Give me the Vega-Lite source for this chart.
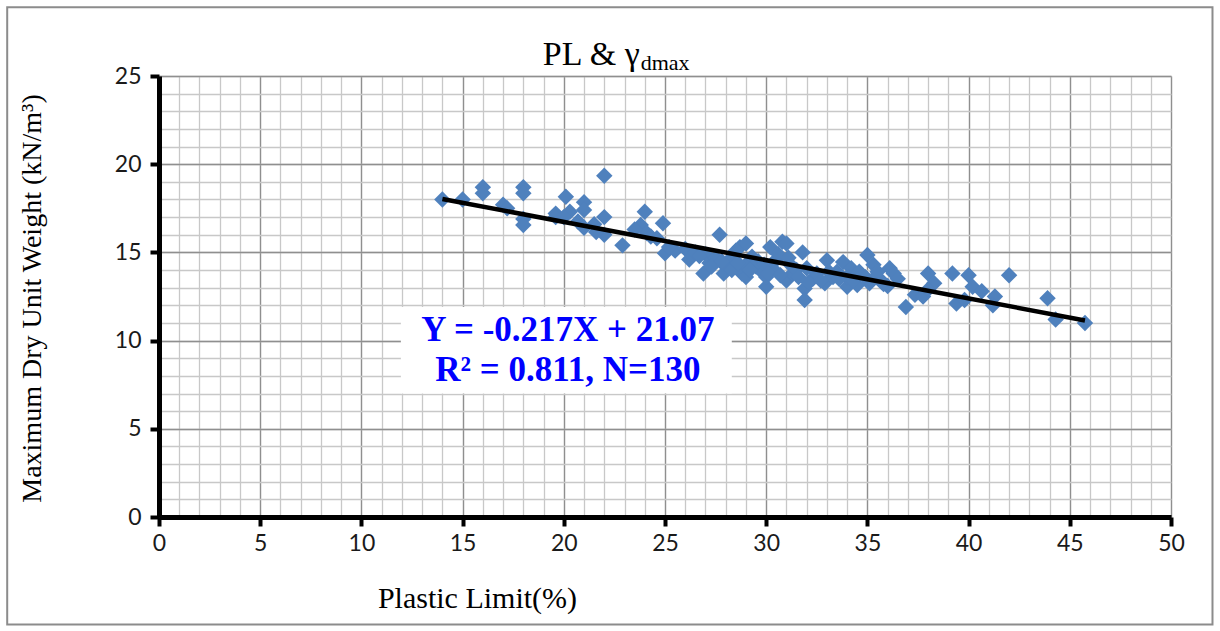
{
  "$schema": "https://vega.github.io/schema/vega-lite/v6.json",
  "width": 1012,
  "height": 441,
  "autosize": {"type": "none"},
  "padding": {"left": 159, "top": 76, "right": 49, "bottom": 114},
  "background": "white",
  "config": {"view": {"stroke": null}},
  "resolve": {"axis": {"x": "independent", "y": "independent"}},
  "datasets": {
    "points": [
      {"pl": 14.0, "gd": 18.0}, {"pl": 15.0, "gd": 18.0}, {"pl": 16.0, "gd": 18.7}, {"pl": 16.0, "gd": 18.35},
      {"pl": 17.0, "gd": 17.7}, {"pl": 17.2, "gd": 17.5}, {"pl": 18.0, "gd": 18.7}, {"pl": 18.0, "gd": 18.35},
      {"pl": 18.0, "gd": 16.9}, {"pl": 18.0, "gd": 16.55}, {"pl": 19.6, "gd": 17.2}, {"pl": 19.6, "gd": 17.0},
      {"pl": 20.1, "gd": 18.15}, {"pl": 20.3, "gd": 17.3}, {"pl": 20.0, "gd": 17.0}, {"pl": 21.0, "gd": 17.85},
      {"pl": 21.0, "gd": 17.4}, {"pl": 20.7, "gd": 16.75}, {"pl": 21.0, "gd": 16.4}, {"pl": 21.5, "gd": 16.6},
      {"pl": 22.0, "gd": 19.35}, {"pl": 22.0, "gd": 17.0}, {"pl": 22.0, "gd": 16.0}, {"pl": 21.6, "gd": 16.15},
      {"pl": 22.9, "gd": 15.4}, {"pl": 24.0, "gd": 17.3}, {"pl": 23.8, "gd": 16.55}, {"pl": 24.1, "gd": 16.1},
      {"pl": 24.3, "gd": 15.9}, {"pl": 24.9, "gd": 16.65}, {"pl": 25.0, "gd": 14.95}, {"pl": 25.5, "gd": 15.1},
      {"pl": 25.2, "gd": 15.3}, {"pl": 26.0, "gd": 15.2}, {"pl": 26.2, "gd": 14.6}, {"pl": 26.5, "gd": 15.0},
      {"pl": 26.9, "gd": 13.8}, {"pl": 27.2, "gd": 14.4}, {"pl": 27.0, "gd": 14.9}, {"pl": 27.7, "gd": 16.0},
      {"pl": 27.5, "gd": 14.7}, {"pl": 27.9, "gd": 13.8}, {"pl": 28.2, "gd": 14.6}, {"pl": 28.0, "gd": 14.2},
      {"pl": 28.5, "gd": 15.1}, {"pl": 28.7, "gd": 15.3}, {"pl": 28.8, "gd": 13.8}, {"pl": 29.0, "gd": 15.5},
      {"pl": 29.0, "gd": 14.3}, {"pl": 29.3, "gd": 14.75}, {"pl": 29.5, "gd": 14.2}, {"pl": 29.7, "gd": 14.0},
      {"pl": 29.0, "gd": 13.6}, {"pl": 30.0, "gd": 13.05}, {"pl": 30.0, "gd": 13.6}, {"pl": 30.2, "gd": 15.3},
      {"pl": 30.5, "gd": 14.6}, {"pl": 30.3, "gd": 14.1}, {"pl": 30.8, "gd": 15.6}, {"pl": 31.0, "gd": 15.5},
      {"pl": 31.0, "gd": 13.4}, {"pl": 31.3, "gd": 13.8}, {"pl": 31.2, "gd": 14.3}, {"pl": 31.5, "gd": 14.0},
      {"pl": 31.8, "gd": 15.0}, {"pl": 31.9, "gd": 12.95}, {"pl": 31.9, "gd": 12.3}, {"pl": 32.3, "gd": 13.5},
      {"pl": 32.0, "gd": 14.1}, {"pl": 32.5, "gd": 13.8}, {"pl": 33.0, "gd": 14.55}, {"pl": 32.9, "gd": 13.25},
      {"pl": 33.3, "gd": 13.6}, {"pl": 33.5, "gd": 13.9}, {"pl": 33.8, "gd": 14.45}, {"pl": 34.0, "gd": 13.05},
      {"pl": 34.2, "gd": 14.1}, {"pl": 34.5, "gd": 13.15}, {"pl": 34.0, "gd": 13.6}, {"pl": 35.0, "gd": 14.85},
      {"pl": 35.1, "gd": 13.25}, {"pl": 35.3, "gd": 14.3}, {"pl": 35.6, "gd": 13.5}, {"pl": 35.5, "gd": 13.9},
      {"pl": 36.1, "gd": 14.1}, {"pl": 36.3, "gd": 13.8}, {"pl": 36.0, "gd": 13.1}, {"pl": 36.9, "gd": 11.9},
      {"pl": 37.35, "gd": 12.6}, {"pl": 37.75, "gd": 12.5}, {"pl": 38.0, "gd": 13.8}, {"pl": 38.3, "gd": 13.25},
      {"pl": 38.0, "gd": 12.9}, {"pl": 39.2, "gd": 13.8}, {"pl": 39.4, "gd": 12.1}, {"pl": 39.8, "gd": 12.3},
      {"pl": 40.0, "gd": 13.7}, {"pl": 40.2, "gd": 13.05}, {"pl": 40.65, "gd": 12.8}, {"pl": 41.3, "gd": 12.5},
      {"pl": 41.2, "gd": 12.0}, {"pl": 42.0, "gd": 13.7}, {"pl": 43.9, "gd": 12.4}, {"pl": 44.3, "gd": 11.2},
      {"pl": 45.75, "gd": 11.0}, {"pl": 26.7, "gd": 14.8}, {"pl": 27.3, "gd": 14.2}, {"pl": 27.8, "gd": 14.5},
      {"pl": 28.3, "gd": 14.0}, {"pl": 28.6, "gd": 14.4}, {"pl": 29.2, "gd": 14.0}, {"pl": 29.6, "gd": 14.5},
      {"pl": 29.9, "gd": 14.3}, {"pl": 30.1, "gd": 13.8}, {"pl": 30.6, "gd": 14.9}, {"pl": 30.7, "gd": 13.7},
      {"pl": 31.1, "gd": 14.7}, {"pl": 31.6, "gd": 13.6}, {"pl": 32.1, "gd": 13.3}, {"pl": 32.7, "gd": 13.4},
      {"pl": 33.1, "gd": 13.9}, {"pl": 33.6, "gd": 13.5}, {"pl": 34.3, "gd": 13.4}, {"pl": 34.6, "gd": 13.9},
      {"pl": 34.9, "gd": 13.6}, {"pl": 35.2, "gd": 13.4}, {"pl": 35.8, "gd": 13.2}, {"pl": 36.5, "gd": 13.5},
      {"pl": 24.6, "gd": 15.8}, {"pl": 23.5, "gd": 16.3}
    ],
    "trend": [{"pl": 14.0, "gd": 18.03}, {"pl": 45.75, "gd": 11.14}],
    "one": [{}]
  },
  "layer": [
    {
      "data": {"name": "one"},
      "mark": {"type": "rect", "fill": "white", "fillOpacity": 0, "stroke": "#8c8c8c", "strokeWidth": 2, "clip": false},
      "encoding": {
        "x": {
          "datum": -7.5, "type": "quantitative",
          "scale": {"domain": [0, 50], "nice": false, "zero": false},
          "axis": {
            "orient": "bottom",
            "values": [0,1,2,3,4,5,6,7,8,9,10,11,12,13,14,15,16,17,18,19,20,21,22,23,24,25,26,27,28,29,30,31,32,33,34,35,36,37,38,39,40,41,42,43,44,45,46,47,48,49,50],
            "title": null, "labels": false, "ticks": false, "domain": false,
            "grid": true, "gridColor": "#c8c8c8", "gridWidth": 1.3
          }
        },
        "x2": {"datum": 52.05},
        "y": {
          "datum": 28.9, "type": "quantitative",
          "scale": {"domain": [0, 25], "nice": false, "zero": false},
          "axis": {
            "orient": "left",
            "values": [0,1,2,3,4,5,6,7,8,9,10,11,12,13,14,15,16,17,18,19,20,21,22,23,24,25],
            "title": null, "labels": false, "ticks": false, "domain": false,
            "grid": true, "gridColor": "#c8c8c8", "gridWidth": 1.3
          }
        },
        "y2": {"datum": -6.1}
      }
    },
    {
      "data": {"name": "one"},
      "mark": {"type": "rect", "fill": "white", "stroke": null},
      "encoding": {
        "x": {
          "datum": 11.95, "type": "quantitative",
          "scale": {"domain": [0, 50], "nice": false, "zero": false},
          "axis": {
            "orient": "bottom",
            "values": [0, 5, 10, 15, 20, 25, 30, 35, 40, 45, 50],
            "title": "Plastic Limit(%)",
            "titleFont": "Liberation Serif", "titleFontSize": 30, "titleFontWeight": "normal", "titleColor": "#000",
            "titleX": 318, "titleY": 81, "titleBaseline": "middle", "titleAlign": "center",
            "labelFont": "Lato", "labelFontSize": 23, "labelColor": "#1a1a1a", "labelPadding": 6,
            "labelFlush": false, "labelOverlap": false,
            "tickColor": "#000", "tickWidth": 4, "tickSize": 9,
            "domainColor": "#000", "domainWidth": 5,
            "grid": true, "gridColor": "#8f8f8f", "gridWidth": 1.3
          }
        },
        "x2": {"datum": 28.3},
        "y": {
          "datum": 11.9, "type": "quantitative",
          "scale": {"domain": [0, 25], "nice": false, "zero": false},
          "axis": {
            "orient": "left",
            "values": [0, 5, 10, 15, 20, 25],
            "title": "Maximum Dry Unit Weight (kN/m³)",
            "titleFont": "Liberation Serif", "titleFontSize": 28, "titleFontWeight": "normal", "titleColor": "#000",
            "titleX": -127, "titleY": 222, "titleAngle": -90, "titleBaseline": "middle", "titleAlign": "center",
            "labelFont": "Lato", "labelFontSize": 23, "labelColor": "#1a1a1a", "labelPadding": 9,
            "labelFlush": false, "labelOverlap": false,
            "tickColor": "#000", "tickWidth": 4, "tickSize": 9,
            "domainColor": "#000", "domainWidth": 5,
            "grid": true, "gridColor": "#8f8f8f", "gridWidth": 1.3
          }
        },
        "y2": {"datum": 7.0}
      }
    },
    {
      "data": {"name": "points"},
      "mark": {"type": "point", "shape": "diamond", "filled": true, "color": "#4F81BD", "opacity": 1, "size": 270},
      "encoding": {
        "x": {"field": "pl", "type": "quantitative", "scale": {"domain": [0, 50], "nice": false, "zero": false}, "axis": null},
        "y": {"field": "gd", "type": "quantitative", "scale": {"domain": [0, 25], "nice": false, "zero": false}, "axis": null}
      }
    },
    {
      "data": {"name": "trend"},
      "mark": {"type": "line", "color": "#000", "strokeWidth": 4.5},
      "encoding": {
        "x": {"field": "pl", "type": "quantitative", "scale": {"domain": [0, 50], "nice": false, "zero": false}, "axis": null},
        "y": {"field": "gd", "type": "quantitative", "scale": {"domain": [0, 25], "nice": false, "zero": false}, "axis": null}
      }
    },
    {
      "data": {"name": "one"},
      "mark": {"type": "text", "text": "Y = -0.217X + 21.07", "font": "Liberation Serif", "fontWeight": "bold", "fontSize": 35, "color": "#0000FF", "align": "center", "baseline": "middle"},
      "encoding": {
        "x": {"datum": 20.2, "type": "quantitative", "scale": {"domain": [0, 50], "nice": false, "zero": false}, "axis": null},
        "y": {"datum": 10.6, "type": "quantitative", "scale": {"domain": [0, 25], "nice": false, "zero": false}, "axis": null}
      }
    },
    {
      "data": {"name": "one"},
      "mark": {"type": "text", "text": "R² = 0.811, N=130", "font": "Liberation Serif", "fontWeight": "bold", "fontSize": 35, "color": "#0000FF", "align": "center", "baseline": "middle"},
      "encoding": {
        "x": {"datum": 20.2, "type": "quantitative", "scale": {"domain": [0, 50], "nice": false, "zero": false}, "axis": null},
        "y": {"datum": 8.35, "type": "quantitative", "scale": {"domain": [0, 25], "nice": false, "zero": false}, "axis": null}
      }
    },
    {
      "data": {"name": "one"},
      "mark": {"type": "text", "text": "PL & γ", "font": "Liberation Serif", "fontSize": 34, "color": "#000", "align": "right", "baseline": "middle", "clip": false},
      "encoding": {
        "x": {"datum": 23.75, "type": "quantitative", "scale": {"domain": [0, 50], "nice": false, "zero": false}, "axis": null},
        "y": {"datum": 26.2, "type": "quantitative", "scale": {"domain": [0, 25], "nice": false, "zero": false}, "axis": null}
      }
    },
    {
      "data": {"name": "one"},
      "mark": {"type": "text", "text": "dmax", "font": "Liberation Serif", "fontSize": 22, "color": "#000", "align": "left", "baseline": "middle", "clip": false},
      "encoding": {
        "x": {"datum": 23.8, "type": "quantitative", "scale": {"domain": [0, 50], "nice": false, "zero": false}, "axis": null},
        "y": {"datum": 25.75, "type": "quantitative", "scale": {"domain": [0, 25], "nice": false, "zero": false}, "axis": null}
      }
    }
  ]
}
